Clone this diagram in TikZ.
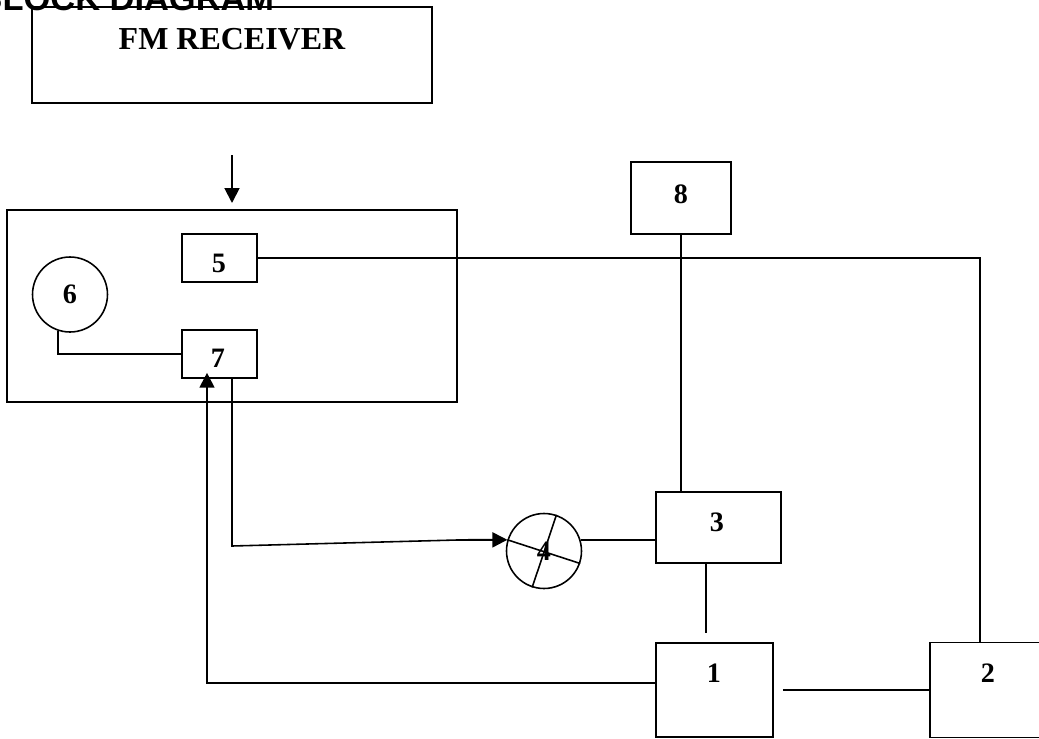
\documentclass[tikz,border=0pt]{standalone}
\usepackage{fontspec}
\setmainfont{Liberation Serif}
\newfontfamily\headfont{Liberation Sans}
\usetikzlibrary{arrows.meta}

\begin{document}
\begin{tikzpicture}[x=0.02cm, y=-0.02cm, line width=0.9pt,
    blk/.style={draw, inner sep=0pt},
    rnd/.style={draw, circle, inner sep=0pt, minimum size=1.5cm},
    num/.style={font=\fontsize{16}{18}\selectfont\bfseries},
    arr/.style={line width=1.1pt, -{Triangle[length=8.5pt,width=8.5pt]}}]
        \useasboundingbox (0,0) rectangle (1039,738);
        % heading, cut by the page top
        \node[anchor=base east, inner sep=0pt, font=\headfont\fontsize{19.6}{22}\selectfont\bfseries] (head) at (275,10) {BLOCK DIAGRAM};
        % receiver and its panel
        \node[blk, minimum width=8cm, minimum height=1.92cm] (fm) at (232,55) {};
        \node[anchor=base, font=\fontsize{18.2}{20}\selectfont\bfseries] (fmtxt) at (232,49) {FM RECEIVER};
        \node[blk, minimum width=9cm, minimum height=3.84cm] (panel) at (232,306) {};
        \node[blk, minimum width=1.5cm, minimum height=0.96cm] (b5) at (219.5,258) {};
        \node[blk, minimum width=1.5cm, minimum height=0.96cm] (b7) at (219.5,354) {};
        \node[rnd, num] (c6) at (70,294.5) {6};
        % blocks on the right
        \node[blk, minimum width=2cm, minimum height=1.44cm] (b8) at (681,198) {};
        \node[blk, minimum width=2.5cm, minimum height=1.42cm] (b3) at (718.5,527.5) {};
        \node[rnd, num] (c4) at (544,551) {4};
        \node[blk, minimum width=2.34cm, minimum height=1.88cm] (b1) at (714.5,690) {};
        \node[blk, minimum width=2.32cm, minimum height=1.9cm] (b2) at (988,690) {};
        \node[num] (l5) at (219,263) {5};
        \node[num] (l7) at (218,358) {7};
        \node[num] (l8) at (681,194) {8};
        \node[num] (l3) at (717,522) {3};
        \node[num] (l1) at (714,673) {1};
        \node[num] (l2) at (988,673) {2};
        % connections
        \coordinate (a0) at (232,155);
        \coordinate (a1) at (232,203);
        \draw[arr] (a0) -- (a1);
        \draw (b5.east) -| ([xshift=-0.16cm]b2.north);
        \draw (b8.south) -- (b8.south |- b3.north);
        \draw (c4.17) -- (c4.17 -| b3.west);
        \coordinate (d0) at ([xshift=-0.25cm]b3.south);
        \draw (d0) -- ([yshift=0.18cm]b1.north -| d0);
        \draw[arr] ([yshift=0.14cm]b1.west) -| ([xshift=-0.25cm,yshift=0.12cm]b7.south);
        \draw[shorten <=0.18cm] (b1.east) -- (b2.west);
        \draw (c6.-108) |- (b7.west);
        \coordinate (k1) at (232,546);
        \coordinate (k2) at (457,540);
        \draw ([xshift=0.25cm]b7.south) -- (k1) -- (k2);
        \draw[arr] (k2) -- (c4.163);
        \draw (c4.163) -- (c4.-19);
        \draw (c4.71) -- (c4.-108);
    \end{tikzpicture}
\end{document}
